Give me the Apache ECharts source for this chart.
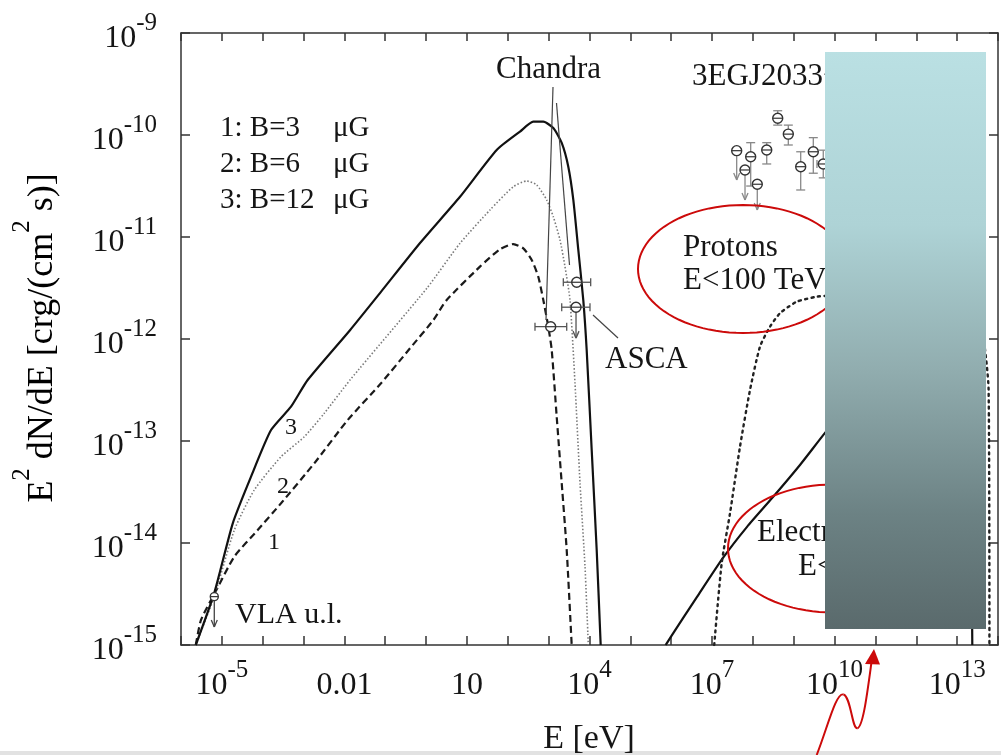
<!DOCTYPE html>
<html><head><meta charset="utf-8"><title>SED</title>
<script src="https://cdn.jsdelivr.net/npm/echarts@6.0.0/dist/echarts.min.js"></script>
<style>html,body{margin:0;padding:0;background:#fff;overflow:hidden}#chart{width:1001px;height:755px}</style>
</head><body><div id="chart"></div>
<script>
// ---------------- DATA (E in eV, flux = E^2 dN/dE) ----------------
// Synchrotron, B = 3 uG (dashed, label "1")
const synch1E = [2.3e-6, 3.09e-6, 6.53e-6, 2.02e-5, 7.55e-5, 2.81e-4, 1.83e-3, 1.21e-2, 7.87e-2, 0.404, 1.50, 3.19, 20.8, 64.4, 136, 240, 385, 558, 740, 980, 1189, 1574, 2089, 2767, 3664];
const synch1F = [1.0e-15, 1.76e-15, 3.16e-15, 7.35e-15, 1.34e-14, 2.45e-14, 6.04e-14, 1.61e-13, 3.68e-13, 8.11e-13, 1.53e-12, 2.41e-12, 5.12e-12, 7.59e-12, 8.53e-12, 7.74e-12, 5.96e-12, 4.08e-12, 2.41e-12, 1.32e-12, 7.80e-13, 1.73e-13, 3.85e-14, 8.53e-15, 1.0e-15];
// Synchrotron, B = 6 uG (dotted, label "2")
const synch2E = [2.3e-6, 6.53e-6, 2.02e-5, 6.22e-5, 2.81e-4, 1.04e-3, 3.22e-3, 1.37e-2, 1.04, 6.76, 36.6, 136, 290, 509, 895, 1300, 1897, 2512, 3334, 4416, 5861, 7762, 9354];
const synch2F = [1.0e-15, 3.0e-15, 1.34e-14, 3.31e-14, 7.01e-14, 1.10e-13, 1.87e-13, 3.96e-13, 3.14e-12, 8.67e-12, 1.84e-11, 3.11e-11, 3.54e-11, 3.24e-11, 2.31e-11, 1.58e-11, 9.35e-12, 5.12e-12, 2.41e-12, 3.68e-13, 3.85e-14, 5.86e-15, 1.0e-15];
// Synchrotron, B = 12 uG (solid, label "3")
const synch3E = [2.3e-6, 6.53e-6, 1.85e-5, 5.18e-5, 1.60e-4, 4.93e-4, 1.26e-3, 1.37e-2, 7.43e-2, 0.710, 6.76, 53.5, 199, 421, 740, 1300, 2089, 3027, 4018, 5321, 7047, 8531, 11320, 15000, 18790];
const synch3F = [1.0e-15, 3.24e-15, 1.56e-14, 4.47e-14, 1.28e-13, 2.17e-13, 3.96e-13, 1.22e-12, 2.82e-12, 8.73e-12, 2.48e-11, 7.13e-11, 1.08e-10, 1.35e-10, 1.35e-10, 1.17e-10, 8.36e-11, 4.89e-11, 2.31e-11, 7.46e-12, 2.41e-12, 7.80e-13, 8.17e-14, 8.53e-15, 1.0e-15];
// Electron inverse-Compton component (solid)
const electronE = [7.3e5, 9.36e5, 4.29e6, 1.85e7, 7.18e7, 3.10e8, 1.42e9, 5.82e9, 1e11, 1e12, 6.3e12, 1.4e13, 2.0e13, 2.35e13];
const electronF = [1.0e-15, 1.17e-15, 2.96e-15, 7.13e-15, 1.44e-14, 2.82e-14, 5.82e-14, 1.20e-13, 4.8e-13, 1.3e-12, 2.2e-12, 1.6e-12, 2.5e-13, 1.0e-15];
// Proton (pi0) component (dotted)
const protonE = [1.13e7, 1.72e7, 2.75e7, 4.83e7, 8.49e7, 1.49e8, 2.62e8, 4.60e8, 1.18e9, 3.65e9, 5.82e9, 1e11, 3.16e12, 2.0e13, 3.98e13, 5.89e13, 6.17e13];
const protonF = [1.0e-15, 6.32e-15, 1.95e-14, 8.79e-14, 3.16e-13, 8.41e-13, 1.32e-12, 1.79e-12, 2.32e-12, 2.60e-12, 2.64e-12, 2.75e-12, 2.5e-12, 1.78e-12, 1.26e-12, 3.16e-13, 1.0e-15];
// 3EG J2033+4118 points (0 = none)
const egretE   = [4.01e7, 6.41e7, 8.83e7, 1.28e8, 2.18e8, 4.05e8, 7.36e8, 1.48e9, 3.01e9, 5.28e9];
const egretELo = [0, 0, 0, 0, 0, 0, 0, 0, 0, 3.7e9];
const egretEHi = [0, 0, 0, 0, 0, 0, 0, 0, 0, 8.0e9];
const egretF   = [7.02e-11, 4.54e-11, 6.12e-11, 3.29e-11, 7.13e-11, 1.46e-10, 1.02e-10, 4.89e-11, 6.85e-11, 5.20e-11];
const egretFLo = [0, 0, 3.16e-11, 0, 5.20e-11, 1.25e-10, 7.98e-11, 2.89e-11, 4.22e-11, 3.8e-11];
const egretFHi = [0, 0, 8.41e-11, 0, 8.41e-11, 1.73e-10, 1.25e-10, 6.85e-11, 9.42e-11, 7.1e-11];
const egretUL  = [3.62e-11, 2.31e-11, 0, 1.84e-11, 0, 0, 0, 0, 0, 0];
// X-ray points (Chandra, ASCA)
const xrayE   = [1122, 4677, 4864];
const xrayELo = [463, 2089, 2286];
const xrayEHi = [2767, 10280, 10690];
const xrayF   = [1.32e-12, 2.05e-12, 3.60e-12];
const xrayUL  = [0, 1.02e-12, 0];
// VLA upper limit
const vlaE = [6.53e-6];
const vlaF = [2.98e-15];
const vlaUL = [1.5e-15];
// tick labels
const xLabelExp  = [-5, -2, 1, 4, 7, 10, 13];
const xLabelBase = ['10', '0.01', '10', '10', '10', '10', '10'];
const xLabelSup  = ['-5', '', '', '4', '7', '10', '13'];
const yLabelExp  = [-15, -14, -13, -12, -11, -10, -9];
const yLabelBase = ['10', '10', '10', '10', '10', '10', '10'];
const yLabelSup  = ['-15', '-14', '-13', '-12', '-11', '-10', '-9'];

// ---------------- CHART ----------------
const SERIF = "'Liberation Serif', 'DejaVu Serif', serif";
const INK = '#151515';
const chart = echarts.init(document.getElementById('chart'), null, {renderer: 'canvas', width: 1001, height: 755});

const zip = (a, b) => a.map((v, i) => [v, b[i]]);
// both tokens share the same total height (46) so the superscript is raised by padding only
const tickRich = {
  b: {fontFamily: SERIF, fontSize: 32, lineHeight: 32, padding: [13, 0, 1, 0], color: INK},
  s: {fontFamily: SERIF, fontSize: 25, lineHeight: 25, padding: [1, 0, 20, 0], color: INK}
};
function makeFmt(exps, base, sup) {
  return function (v) {
    const e = Math.round(Math.log10(v));
    const i = exps.indexOf(e);
    if (i < 0) return '';
    return '{b|' + base[i] + '}' + (sup[i] ? '{s|' + sup[i] + '}' : '');
  };
}
const axisLine = {show: true, onZero: false, lineStyle: {color: '#333', width: 1.5}};
function xAx(pos, labels) {
  return {type: 'log', logBase: 10, min: 1e-6, max: 1e14, interval: 1, position: pos,
    axisLine: axisLine, splitLine: {show: false}, minorTick: {show: false},
    axisTick: {show: true, inside: true, length: pos === 'bottom' ? 9 : 8, lineStyle: {color: '#333', width: 1.5}},
    axisLabel: labels ? {show: true, margin: 19, formatter: makeFmt(xLabelExp, xLabelBase, xLabelSup), rich: tickRich} : {show: false}};
}
function yAx(pos, labels) {
  return {type: 'log', logBase: 10, min: 1e-15, max: 1e-9, interval: 1, position: pos,
    axisLine: axisLine, splitLine: {show: false}, minorTick: {show: false},
    axisTick: {show: true, inside: true, length: 9, lineStyle: {color: '#333', width: 1.5}},
    axisLabel: labels ? {show: true, margin: 24, formatter: makeFmt(yLabelExp, yLabelBase, yLabelSup), rich: tickRich} : {show: false}};
}

function errItem(E, F, ELo, EHi, FLo, FHi, UL) { return [E, F, ELo || 0, EHi || 0, FLo || 0, FHi || 0, UL || 0]; }
function makeRender(opt) {
  return function (params, api) {
    const E = api.value(0), F = api.value(1);
    const ELo = api.value(2), EHi = api.value(3), FLo = api.value(4), FHi = api.value(5), UL = api.value(6);
    const p = api.coord([E, F]);
    const ch = [];
    const bar = {stroke: opt.bar, lineWidth: 1.3};
    const L = (x1, y1, x2, y2, st) => ch.push({type: 'line', shape: {x1, y1, x2, y2}, style: st || bar});
    if (ELo > 0 && EHi > 0) {
      const a = api.coord([ELo, F]), b = api.coord([EHi, F]);
      L(a[0], a[1], b[0], b[1]); L(a[0], a[1] - 4, a[0], a[1] + 4); L(b[0], b[1] - 4, b[0], b[1] + 4);
    }
    if (FLo > 0 && FHi > 0) {
      const a = api.coord([E, FLo]), b = api.coord([E, FHi]);
      L(a[0], a[1], b[0], b[1]); L(a[0] - 4.5, a[1], a[0] + 4.5, a[1]); L(b[0] - 4.5, b[1], b[0] + 4.5, b[1]);
    }
    if (UL > 0) {
      const a = api.coord([E, UL]);
      L(p[0], p[1], a[0], a[1]); L(a[0] - 3, a[1] - 7, a[0], a[1]); L(a[0] + 3, a[1] - 7, a[0], a[1]);
    }
    ch.push({type: 'circle', shape: {cx: p[0], cy: p[1], r: opt.r}, style: {fill: '#fff', stroke: opt.mark, lineWidth: 1.4}});
    L(p[0] - opt.r, p[1], p[0] + opt.r, p[1], {stroke: opt.mark, lineWidth: 1.2});
    return {type: 'group', children: ch};
  };
}

const egretData = egretE.map((e, i) => errItem(e, egretF[i], egretELo[i], egretEHi[i], egretFLo[i], egretFHi[i], egretUL[i]));
const xrayData = xrayE.map((e, i) => errItem(e, xrayF[i], xrayELo[i], xrayEHi[i], 0, 0, xrayUL[i]));
const vlaData = vlaE.map((e, i) => errItem(e, vlaF[i], 0, 0, 0, 0, vlaUL[i]));

function lineSeries(name, E, F, style) {
  return {name, type: 'line', data: zip(E, F), showSymbol: false, symbol: 'none', smooth: 0.2,
    clip: true, lineStyle: style, z: 3, silent: true, animation: false};
}

function ellipsePts(cx, cy, rx, ry) {
  const pts = [];
  for (let k = 0; k <= 96; k++) { const t = k / 96 * Math.PI * 2; pts.push([cx + rx * Math.cos(t), cy + ry * Math.sin(t)]); }
  return pts;
}
function txt(text, x, y, size, align, z) {
  return {type: 'text', x, y, z: z || 10, style: {text, fontFamily: SERIF, fontSize: size, fill: INK, align: align || 'left', verticalAlign: 'middle'}};
}
const RED = '#cc0a0a';

const graphic = [
  {type: 'rect', shape: {x: 0, y: 751, width: 1001, height: 4}, style: {fill: '#e2e2e2'}, z: 1},
  txt('1: B=3', 220, 128, 29), txt('μG', 333, 128, 29),
  txt('2: B=6', 220, 164, 29), txt('μG', 333, 164, 29),
  txt('3: B=12', 220, 200, 29), txt('μG', 333, 200, 29),
  txt('Chandra', 496, 70, 31),
  txt('3EGJ2033+4118', 692, 77, 31),
  txt('Protons', 683, 248, 31),
  txt('E<100 TeV', 683, 281, 31),
  txt('ASCA', 605, 360, 31),
  txt('VLA u.l.', 235, 615, 30),
  txt('Electrons', 757, 533, 31),
  txt('E<100 TeV', 798, 567, 31),
  txt('3', 291, 428, 24, 'center'),
  txt('2', 283, 487, 24, 'center'),
  txt('1', 274, 543, 24, 'center'),
  txt('E [eV]', 589, 739, 34, 'center'),
  {type: 'text', x: 36.5, y: 338, rotation: Math.PI / 2, z: 10,
    style: {text: '{t|E}{s|2}{t| dN/dE [crg/(cm}{s|2}{t| s)]}', align: 'center', verticalAlign: 'middle',
      rich: {t: {fontFamily: SERIF, fontSize: 36, lineHeight: 36, padding: [18, 0, 6, 0], color: INK},
             s: {fontFamily: SERIF, fontSize: 25, lineHeight: 25, padding: [3, 0, 32, 0], color: INK}}}},
  // leader lines
  {type: 'line', shape: {x1: 553, y1: 87, x2: 546, y2: 320}, style: {stroke: '#444', lineWidth: 1.2}, z: 9},
  {type: 'line', shape: {x1: 556.5, y1: 103, x2: 569.5, y2: 265}, style: {stroke: '#444', lineWidth: 1.2}, z: 9},
  {type: 'line', shape: {x1: 593, y1: 315, x2: 618, y2: 338}, style: {stroke: '#444', lineWidth: 1.2}, z: 9},
  // red ellipses
  {type: 'polyline', shape: {points: ellipsePts(743, 269, 105, 64)}, style: {stroke: RED, lineWidth: 2, fill: null}, z: 20},
  {type: 'polyline', shape: {points: ellipsePts(833, 548.5, 105, 64)}, style: {stroke: RED, lineWidth: 2, fill: null}, z: 20},
  // gradient overlay
  {type: 'rect', shape: {x: 825, y: 52, width: 161, height: 577}, z: 100,
    style: {fill: {type: 'linear', x: 0, y: 0, x2: 0, y2: 1, colorStops: [
      {offset: 0, color: '#bae0e3'}, {offset: 0.3, color: '#aed3d6'}, {offset: 0.55, color: '#91adaf'},
      {offset: 0.8, color: '#6c8284'}, {offset: 1, color: '#5a6a6c'}]}}},
  // red wavy arrow
  {type: 'bezierCurve', shape: {x1: 816.7, y1: 755, cpx1: 828, cpy1: 726, cpx2: 836, cpy2: 692, x2: 843.5, y2: 694.5}, style: {stroke: RED, lineWidth: 2, fill: null}, z: 110},
  {type: 'bezierCurve', shape: {x1: 843.5, y1: 694.5, cpx1: 851, cpy1: 697, cpx2: 852, cpy2: 729, x2: 857.3, y2: 728.3}, style: {stroke: RED, lineWidth: 2, fill: null}, z: 110},
  {type: 'bezierCurve', shape: {x1: 857.3, y1: 728.3, cpx1: 863, cpy1: 727, cpx2: 867, cpy2: 695, x2: 871.5, y2: 662}, style: {stroke: RED, lineWidth: 2, fill: null}, z: 110},
  {type: 'polygon', shape: {points: [[874, 649], [865, 664], [880, 664.5]]}, style: {fill: RED}, z: 110}
];

const option = {
  backgroundColor: '#ffffff',
  animation: false,
  grid: {left: 181, right: 2, top: 33, bottom: 110, containLabel: false},
  xAxis: [xAx('bottom', true), xAx('top', false)],
  yAxis: [yAx('left', true), yAx('right', false)],
  series: [
    lineSeries('B=3 uG', synch1E, synch1F, {color: '#1a1a1a', width: 2.2, type: [7, 4]}),
    lineSeries('B=6 uG', synch2E, synch2F, {color: '#7a7a7a', width: 1.6, type: [1.5, 2]}),
    lineSeries('B=12 uG', synch3E, synch3F, {color: '#111', width: 2.2, type: 'solid'}),
    lineSeries('Electrons', electronE, electronF, {color: '#111', width: 2.2, type: 'solid'}),
    lineSeries('Protons', protonE, protonF, {color: '#222', width: 2.4, type: [2, 4.5], cap: 'round'}),
    {name: '3EG', type: 'custom', data: egretData, encode: {x: 0, y: 1}, renderItem: makeRender({r: 5, bar: '#888', mark: '#333'}), z: 4, silent: true},
    {name: 'X-ray', type: 'custom', data: xrayData, encode: {x: 0, y: 1}, renderItem: makeRender({r: 5, bar: '#555', mark: '#333'}), z: 4, silent: true},
    {name: 'VLA', type: 'custom', data: vlaData, encode: {x: 0, y: 1}, renderItem: makeRender({r: 4, bar: '#444', mark: '#333'}), z: 4, silent: true}
  ],
  graphic: {elements: graphic}
};
chart.setOption(option);
</script></body></html>
